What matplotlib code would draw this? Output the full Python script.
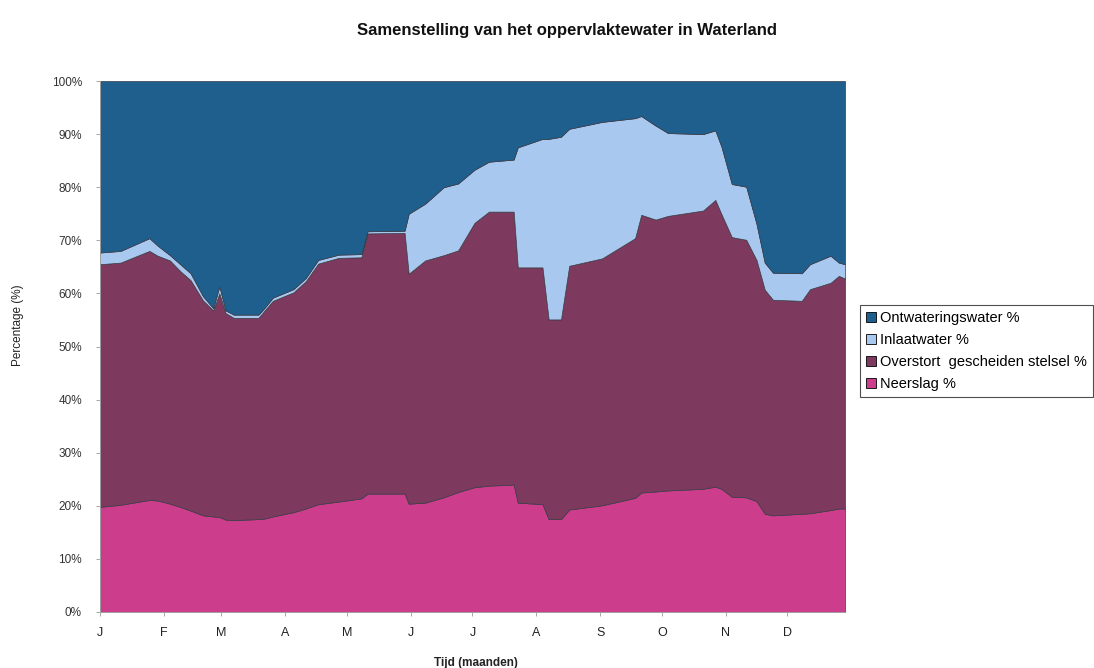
import matplotlib
matplotlib.use("Agg")
import matplotlib.pyplot as plt
from matplotlib.patches import Patch
import numpy as np

plt.rcParams['font.family'] = ['Liberation Sans', 'DejaVu Sans']

# Day of year for each reading
days = [0, 10, 24, 28, 34, 39, 44, 50, 55, 58, 61, 65, 77, 80, 84, 94, 100, 106,
        116, 127, 130, 148, 150, 158, 167, 174, 182, 189, 201, 203, 215, 218, 224,
        228, 244, 260, 263, 270, 276, 293, 299, 302, 307, 314, 319, 323, 327, 341,
        345, 355, 359, 362]

# Cumulative tops (percent)
neerslag_top = [19.8, 20.2, 21.1, 21.0, 20.4, 19.8, 19.1, 18.2, 18.0, 17.9, 17.4, 17.3,
                17.5, 17.6, 18.0, 18.8, 19.5, 20.3, 20.8, 21.4, 22.3, 22.3, 20.4, 20.6,
                21.6, 22.6, 23.5, 23.8, 24.0, 20.6, 20.3, 17.5, 17.5, 19.3, 20.1, 21.5,
                22.5, 22.7, 22.9, 23.2, 23.6, 23.2, 21.7, 21.6, 20.9, 18.5, 18.2, 18.5,
                18.6, 19.2, 19.5, 19.5]
overstort_top = [65.5, 65.8, 68.0, 67.1, 66.2, 64.2, 62.5, 58.7, 56.8, 60.0, 56.3, 55.4,
                 55.4, 56.8, 58.6, 60.2, 62.3, 65.6, 66.7, 66.8, 71.3, 71.4, 63.7, 66.2,
                 67.2, 68.1, 73.3, 75.4, 75.4, 64.9, 64.9, 55.1, 55.1, 65.2, 66.6, 70.4,
                 74.8, 73.9, 74.6, 75.6, 77.6, 74.9, 70.6, 70.1, 66.3, 60.7, 58.8, 58.6,
                 60.8, 62.0, 63.3, 62.8]
inlaat_top = [67.7, 68.0, 70.4, 69.0, 67.2, 65.5, 63.8, 59.5, 57.2, 61.3, 56.8, 56.0,
              56.0, 57.3, 59.2, 60.8, 62.9, 66.3, 67.3, 67.4, 71.7, 71.8, 75.0, 76.9,
              80.0, 80.7, 83.3, 84.8, 85.2, 87.5, 89.1, 89.1, 89.5, 91.0, 92.3, 93.0,
              93.4, 91.6, 90.2, 90.0, 90.7, 87.6, 80.6, 80.1, 73.1, 65.8, 63.9, 63.8,
              65.5, 67.1, 65.8, 65.5]

d = np.array(days, dtype=float)
neerslag = np.array(neerslag_top)
overstort = np.array(overstort_top) - np.array(neerslag_top)
inlaat = np.array(inlaat_top) - np.array(overstort_top)
ontwatering = 100.0 - np.array(inlaat_top)

month_ticks = [0, 31, 59, 90, 120, 151, 181, 212, 243, 273, 304, 334]
month_labels = ['J', 'F', 'M', 'A', 'M', 'J', 'J', 'A', 'S', 'O', 'N', 'D']
series_names = ['Neerslag %', 'Overstort  gescheiden stelsel %', 'Inlaatwater %', 'Ontwateringswater %']
colors = ['#CC3D8C', '#7D3A5E', '#A9C8F0', '#1E5F8E']

fig = plt.figure(figsize=(10.94, 6.68), dpi=100)
ax = fig.add_axes([100/1094, 1-612/668, 745/1094, 531/668])

ax.stackplot(d, neerslag, overstort, inlaat, ontwatering, colors=colors,
             edgecolor='#3a3a45', linewidth=0.5)

ax.set_xlim(0, 362)
ax.set_ylim(0, 100)
ax.set_yticks(np.arange(0, 101, 10))
ax.set_yticklabels([f'{v}%' for v in range(0, 101, 10)], fontsize=8.5, color='#333333')
ax.set_xticks(month_ticks)
ax.set_xticklabels(month_labels, fontsize=9, color='#222222')
ax.tick_params(axis='both', length=3, width=0.6, color='#999999')
ax.tick_params(axis='x', pad=8)
ax.tick_params(axis='y', pad=10)
for s in ['top', 'right']:
    ax.spines[s].set_visible(False)
for s in ['left', 'bottom']:
    ax.spines[s].set_color('#aaaaaa')
    ax.spines[s].set_linewidth(0.6)

ax.set_xlabel('Tijd (maanden)', fontsize=8.5, fontweight='bold', color='#222222')
ax.xaxis.set_label_coords(0.505, -0.085)
ax.set_ylabel('Percentage (%)', fontsize=8.5, color='#222222')
ax.yaxis.set_label_coords(-0.102, 0.54)

fig.text(567/1094, 1-30/668, 'Samenstelling van het oppervlaktewater in Waterland',
         ha='center', va='center', fontsize=12, fontweight='bold', color='#111111')

handles = [Patch(facecolor=colors[i], edgecolor='black', linewidth=0.6) for i in [3, 2, 1, 0]]
labels = [series_names[i] for i in [3, 2, 1, 0]]
leg = fig.legend(handles, labels, loc='upper left', bbox_to_anchor=(860/1094, 1-305/668),
                 fontsize=10.5, frameon=True, fancybox=False, handlelength=0.7,
                 handleheight=0.7, handletextpad=0.3, labelspacing=0.55,
                 borderpad=0.4, borderaxespad=0)
leg.get_frame().set_edgecolor('#222222')
leg.get_frame().set_linewidth(0.8)

fig.savefig('out.png', dpi=100)
